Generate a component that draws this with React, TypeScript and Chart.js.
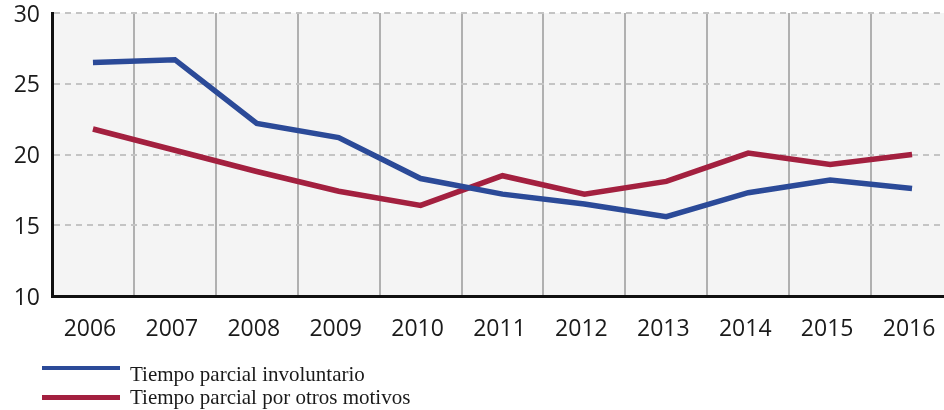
import React, { useEffect, useRef } from "react";
import { Chart, registerables } from "chart.js";

Chart.register(...registerables);

const years = ["2006", "2007", "2008", "2009", "2010", "2011", "2012", "2013", "2014", "2015", "2016"];
const involuntario = [26.5, 26.7, 22.2, 21.2, 18.3, 17.2, 16.5, 15.6, 17.3, 18.2, 17.6];
const otrosMotivos = [21.8, 20.3, 18.8, 17.4, 16.4, 18.5, 17.2, 18.1, 20.1, 19.3, 20.0];
const seriesNames = ["Tiempo parcial involuntario", "Tiempo parcial por otros motivos"];
const yTicks = [10, 15, 20, 25, 30];

const BLUE = "#2b4a98";
const RED = "#a3203f";

const plotBg = {
  id: "plotBg",
  beforeDraw(chart: any) {
    const { ctx, chartArea } = chart;
    ctx.save();
    ctx.fillStyle = "#f4f4f4";
    ctx.fillRect(chartArea.left, chartArea.top, chartArea.right - chartArea.left, chartArea.bottom - chartArea.top);
    ctx.restore();
  },
};

export default function App() {
  const ref = useRef<HTMLCanvasElement>(null);

  useEffect(() => {
    document.body.style.margin = "0";
    const chart = new Chart(ref.current!, {
      type: "line",
      data: {
        labels: years,
        datasets: [
          { label: seriesNames[0], data: involuntario, borderColor: BLUE, borderWidth: 5.5, pointRadius: 0, tension: 0, fill: false },
          { label: seriesNames[1], data: otrosMotivos, borderColor: RED, borderWidth: 5.5, pointRadius: 0, tension: 0, fill: false },
        ],
      },
      options: {
        responsive: false,
        animation: false,
        devicePixelRatio: 1,
        layout: { padding: { left: 0, top: 13, right: 7, bottom: 0 } },
        plugins: { legend: { display: false }, tooltip: { enabled: false } },
        scales: {
          x: {
            offset: true,
            grid: { display: true, offset: true, color: "#b0b0b0", lineWidth: 2, drawTicks: false },
            border: { display: true, color: "#111", width: 3 },
            ticks: { color: "#1a1a1a", font: { family: "'Open Sans'", size: 23 }, padding: 20, labelOffset: -3, maxRotation: 0 },
            afterFit(scale: any) { scale.height = 114; scale.paddingLeft = 0; scale.paddingRight = 0; },
          },
          y: {
            min: 10,
            max: 30,
            afterBuildTicks(scale: any) { scale.ticks = yTicks.map((v) => ({ value: v })); },
            grid: { color: "#c4c4c4", lineWidth: 2, drawTicks: false },
            border: { display: true, color: "#111", width: 3, dash: [6, 5] },
            ticks: { color: "#1a1a1a", font: { family: "'Open Sans'", size: 23 }, padding: 12, labelOffset: 2 },
            afterFit(scale: any) { scale.width = 52; scale.paddingTop = 0; scale.paddingBottom = 0; },
          },
        },
      },
      plugins: [plotBg],
    } as any);
    return () => chart.destroy();
  }, []);

  const textStyle: React.CSSProperties = {
    position: "absolute",
    left: 130,
    fontFamily: "'Liberation Serif', 'Times New Roman', serif",
    fontSize: 21,
    lineHeight: "21px",
    color: "#1a1a1a",
    whiteSpace: "nowrap",
  };

  return (
    <div style={{ position: "relative", width: 944, height: 410, overflow: "hidden", background: "#fff" }}>
      <canvas ref={ref} width={960} height={410} style={{ position: "absolute", left: 0, top: 0 }} />
      <div style={{ position: "absolute", left: 42, top: 366, width: 78, height: 4, background: BLUE }} />
      <div style={{ ...textStyle, top: 364 }}>{seriesNames[0]}</div>
      <div style={{ position: "absolute", left: 42, top: 395, width: 78, height: 5, background: RED }} />
      <div style={{ ...textStyle, top: 387 }}>{seriesNames[1]}</div>
    </div>
  );
}
